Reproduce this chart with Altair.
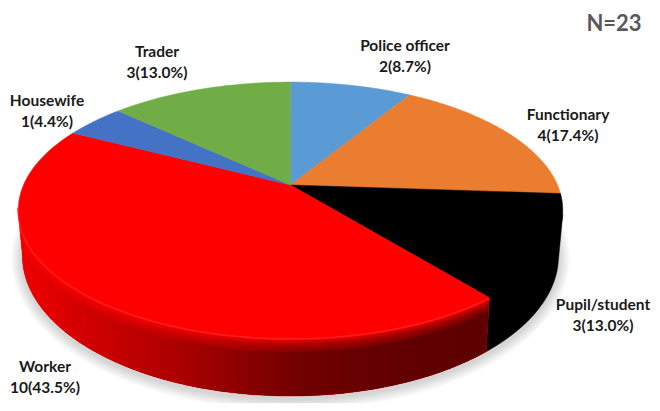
import math
import altair as alt
import pandas as pd

categories = ["Police officer", "Functionary", "Pupil/student", "Worker", "Housewife", "Trader"]
counts = [2, 4, 3, 10, 1, 3]
percents = ["8.7", "17.4", "13.0", "43.5", "4.4", "13.0"]
colors = ["#5B9BD5", "#EB7D30", "#000000", "#FF0000", "#4472C4", "#70AD47"]
label_x = [405, 568, 603, 45, 47, 157]
label_y = [46, 115, 305, 367, 101, 52]
note = "N=23"

TOTAL = sum(counts)
CX, CY, A, B, K = 290.5, 185.0, 267.0, 123.0, 0.195
TOPY, TOPRX, TOPRY = 210.0, 272.5, 128.0
LOWY, LOWRX, LOWRY = 256.0, 268.0, 140.0


def top_point(theta):
    w = 1 + K * math.cos(theta)
    return CX + A * math.sin(theta) / w, CY - B * math.cos(theta) / w


def rim_t(theta):
    x, y = top_point(theta)
    return math.atan2((y - TOPY) / TOPRY, (x - CX) / TOPRX)


def lerp_rim(t, f):
    rx = TOPRX + (LOWRX - TOPRX) * f
    ry = TOPRY + (LOWRY - TOPRY) * f
    cy = TOPY + (LOWY - TOPY) * f
    return CX + rx * math.cos(t), cy + ry * math.sin(t)


def frame(points):
    return pd.DataFrame({"px": [p[0] for p in points], "py": [p[1] for p in points],
                         "i": list(range(len(points)))})


XS = alt.Scale(domain=[8, 652], range=[0, 644], nice=False, zero=False)
YS = alt.Scale(domain=[8, 403], range=[0, 395], nice=False, zero=False)


def poly(points, **mark):
    return alt.Chart(frame(points)).mark_line(**mark).encode(
        x=alt.X("px:Q", scale=XS, axis=None),
        y=alt.Y("py:Q", scale=YS, axis=None),
        order=alt.Order("i:Q"),
    )


def wall(t0, t1, f0, f1=1.0, n=120):
    ts = [t0 + (t1 - t0) * k / n for k in range(n + 1)]
    pts = [lerp_rim(t, f0) for t in ts] + [lerp_rim(t, f1) for t in reversed(ts)]
    pts.append(pts[0])
    return pts


edges = [0.0]
for c in counts:
    edges.append(edges[-1] + c / TOTAL * 2 * math.pi)

layers = []

# soft shadow below the wall
for e in range(2, 15, 2):
    pts = [(CX + (LOWRX + e * 0.8) * math.cos(2 * math.pi * k / 200),
            LOWY + 3 + (LOWRY + e * 0.8) * math.sin(2 * math.pi * k / 200)) for k in range(201)]
    layers.append(poly(pts, fill="#000000", stroke=None, strokeWidth=0, fillOpacity=0.024))

t_split = rim_t(edges[3])
t_left = math.pi

# black wall, tucked under the top face
layers.append(poly(wall(0.07, t_split, -0.1), fill="#000000", stroke="#000000", strokeWidth=0.5))

# red wall with a horizontal shade
shade = alt.Gradient(
    gradient="linear", x1=0, x2=1, y1=0, y2=0,
    stops=[
        alt.GradientStop(offset=0.0, color="#ee0000"),
        alt.GradientStop(offset=0.17, color="#cc0000"),
        alt.GradientStop(offset=0.38, color="#a30000"),
        alt.GradientStop(offset=0.6, color="#700000"),
        alt.GradientStop(offset=0.8, color="#620000"),
        alt.GradientStop(offset=1.0, color="#5e0000"),
    ],
)
layers.append(poly(wall(t_split, t_left, -0.05), fill="#ff0000", stroke="#ff0000", strokeWidth=0.5))
for f in [0.04, 0.09, 0.14, 0.19]:
    layers.append(poly(wall(t_split, t_left, f), fill=shade, stroke=None, strokeWidth=0, fillOpacity=0.35))
layers.append(poly(wall(t_split, t_left, 0.24), fill=shade, stroke=None, strokeWidth=0))

# top face slices
for j, col in enumerate(colors):
    a0, a1 = edges[j], edges[j + 1]
    n = 80
    pts = [(CX, CY)] + [top_point(a0 + (a1 - a0) * k / n) for k in range(n + 1)] + [(CX, CY)]
    layers.append(poly(pts, fill=col, stroke=col, strokeWidth=0.5))

# rim highlight on the red front
rim = [lerp_rim(t_split + (t_left - t_split) * k / 120, 0.015) for k in range(121)]
layers.append(poly(rim, stroke="#ff4a4a", strokeWidth=1.5, opacity=0.4))

rows = []
for name, cnt, pct, lx, ly in zip(categories, counts, percents, label_x, label_y):
    rows.append({"tx": lx, "ty": ly, "label": name})
    rows.append({"tx": lx, "ty": ly + 21, "label": f"{cnt}({pct}%)"})
labels = alt.Chart(pd.DataFrame(rows)).mark_text(
    font="Lato", fontWeight="bold", fontSize=15.5, color="#1a1a1a", align="center", baseline="middle"
).encode(
    x=alt.X("tx:Q", scale=XS, axis=None),
    y=alt.Y("ty:Q", scale=YS, axis=None),
    text="label:N",
)
layers.append(labels)

n_text = alt.Chart(pd.DataFrame({"tx": [614], "ty": [24], "label": [note]})).mark_text(
    font="Lato", fontWeight="bold", fontSize=22, color="#595959", align="center", baseline="middle"
).encode(
    x=alt.X("tx:Q", scale=XS, axis=None),
    y=alt.Y("ty:Q", scale=YS, axis=None),
    text="label:N",
)
layers.append(n_text)

chart = alt.layer(*layers).properties(
    width=644, height=395, padding=0, autosize=alt.AutoSizeParams(type="none"), background="white"
).configure_view(stroke=None)

chart.save("out.html", embed_options={"renderer": "svg", "actions": False})
